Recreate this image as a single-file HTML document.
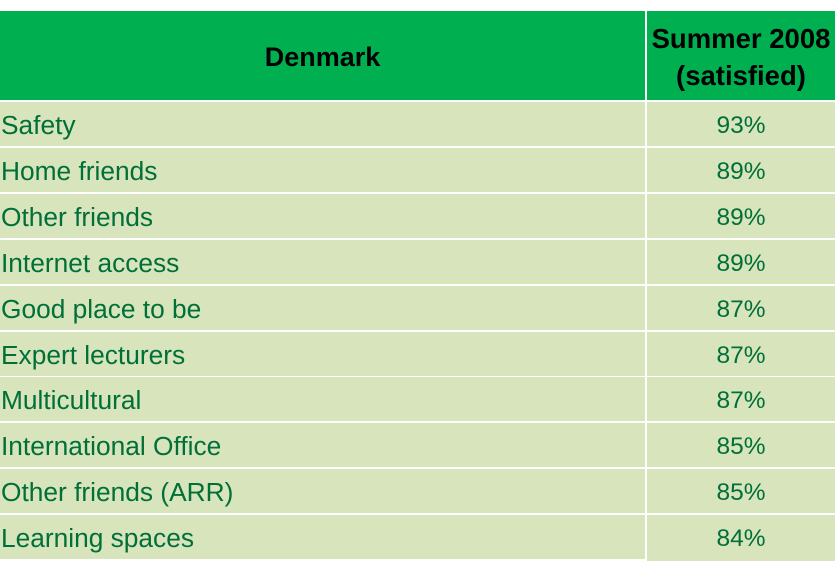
<!DOCTYPE html>
<html>
<head>
<meta charset="utf-8">
<style>
html,body{margin:0;padding:0;background:#fff;}
body{width:837px;height:575px;position:relative;overflow:hidden;font-family:"Liberation Sans",Arial,sans-serif;}
.c{position:absolute;}
.hd{background:#00b050;}
.rw{background:#d7e4bc;}
.lab{position:absolute;left:1px;top:0.5px;height:44px;line-height:44px;font-size:26.3px;color:#006f38;white-space:nowrap;}
.val{position:absolute;left:0;right:0;top:1.5px;height:44px;line-height:44px;font-size:24.5px;color:#006f38;text-align:center;white-space:nowrap;}
.ht{position:absolute;font-weight:bold;color:#000;text-align:center;white-space:nowrap;}
</style>
</head>
<body>
<!-- header -->
<div class="c hd" style="left:0;top:11px;width:645px;height:89px;">
  <div class="ht" style="left:0;right:0;top:31px;font-size:27px;line-height:30px;">Denmark</div>
</div>
<div class="c hd" style="left:647px;top:11px;width:188px;height:89px;">
  <div class="ht" style="left:-8px;right:-8px;top:8.5px;font-size:27.5px;line-height:37px;">Summer 2008<br>(satisfied)</div>
</div>

<!-- rows -->
<div class="c rw" style="left:0;top:102px;width:645px;height:44px;"><div class="lab">Safety</div></div>
<div class="c rw" style="left:647px;top:102px;width:188px;height:44px;"><div class="val">93%</div></div>

<div class="c rw" style="left:0;top:148px;width:645px;height:44px;"><div class="lab">Home friends</div></div>
<div class="c rw" style="left:647px;top:148px;width:188px;height:44px;"><div class="val">89%</div></div>

<div class="c rw" style="left:0;top:194px;width:645px;height:44px;"><div class="lab">Other friends</div></div>
<div class="c rw" style="left:647px;top:194px;width:188px;height:44px;"><div class="val">89%</div></div>

<div class="c rw" style="left:0;top:240px;width:645px;height:44px;"><div class="lab">Internet access</div></div>
<div class="c rw" style="left:647px;top:240px;width:188px;height:44px;"><div class="val">89%</div></div>

<div class="c rw" style="left:0;top:286px;width:645px;height:44px;"><div class="lab">Good place to be</div></div>
<div class="c rw" style="left:647px;top:286px;width:188px;height:44px;"><div class="val">87%</div></div>

<div class="c rw" style="left:0;top:332px;width:645px;height:44px;"><div class="lab">Expert lecturers</div></div>
<div class="c rw" style="left:647px;top:332px;width:188px;height:44px;"><div class="val">87%</div></div>

<div class="c rw" style="left:0;top:377px;width:645px;height:44px;"><div class="lab">Multicultural</div></div>
<div class="c rw" style="left:647px;top:377px;width:188px;height:44px;"><div class="val">87%</div></div>

<div class="c rw" style="left:0;top:423px;width:645px;height:44px;"><div class="lab">International Office</div></div>
<div class="c rw" style="left:647px;top:423px;width:188px;height:44px;"><div class="val">85%</div></div>

<div class="c rw" style="left:0;top:469px;width:645px;height:44px;"><div class="lab">Other friends (ARR)</div></div>
<div class="c rw" style="left:647px;top:469px;width:188px;height:44px;"><div class="val">85%</div></div>

<div class="c rw" style="left:0;top:515px;width:645px;height:44px;"><div class="lab">Learning spaces</div></div>
<div class="c rw" style="left:647px;top:515px;width:188px;height:46px;"><div class="val">84%</div></div>
</body>
</html>
